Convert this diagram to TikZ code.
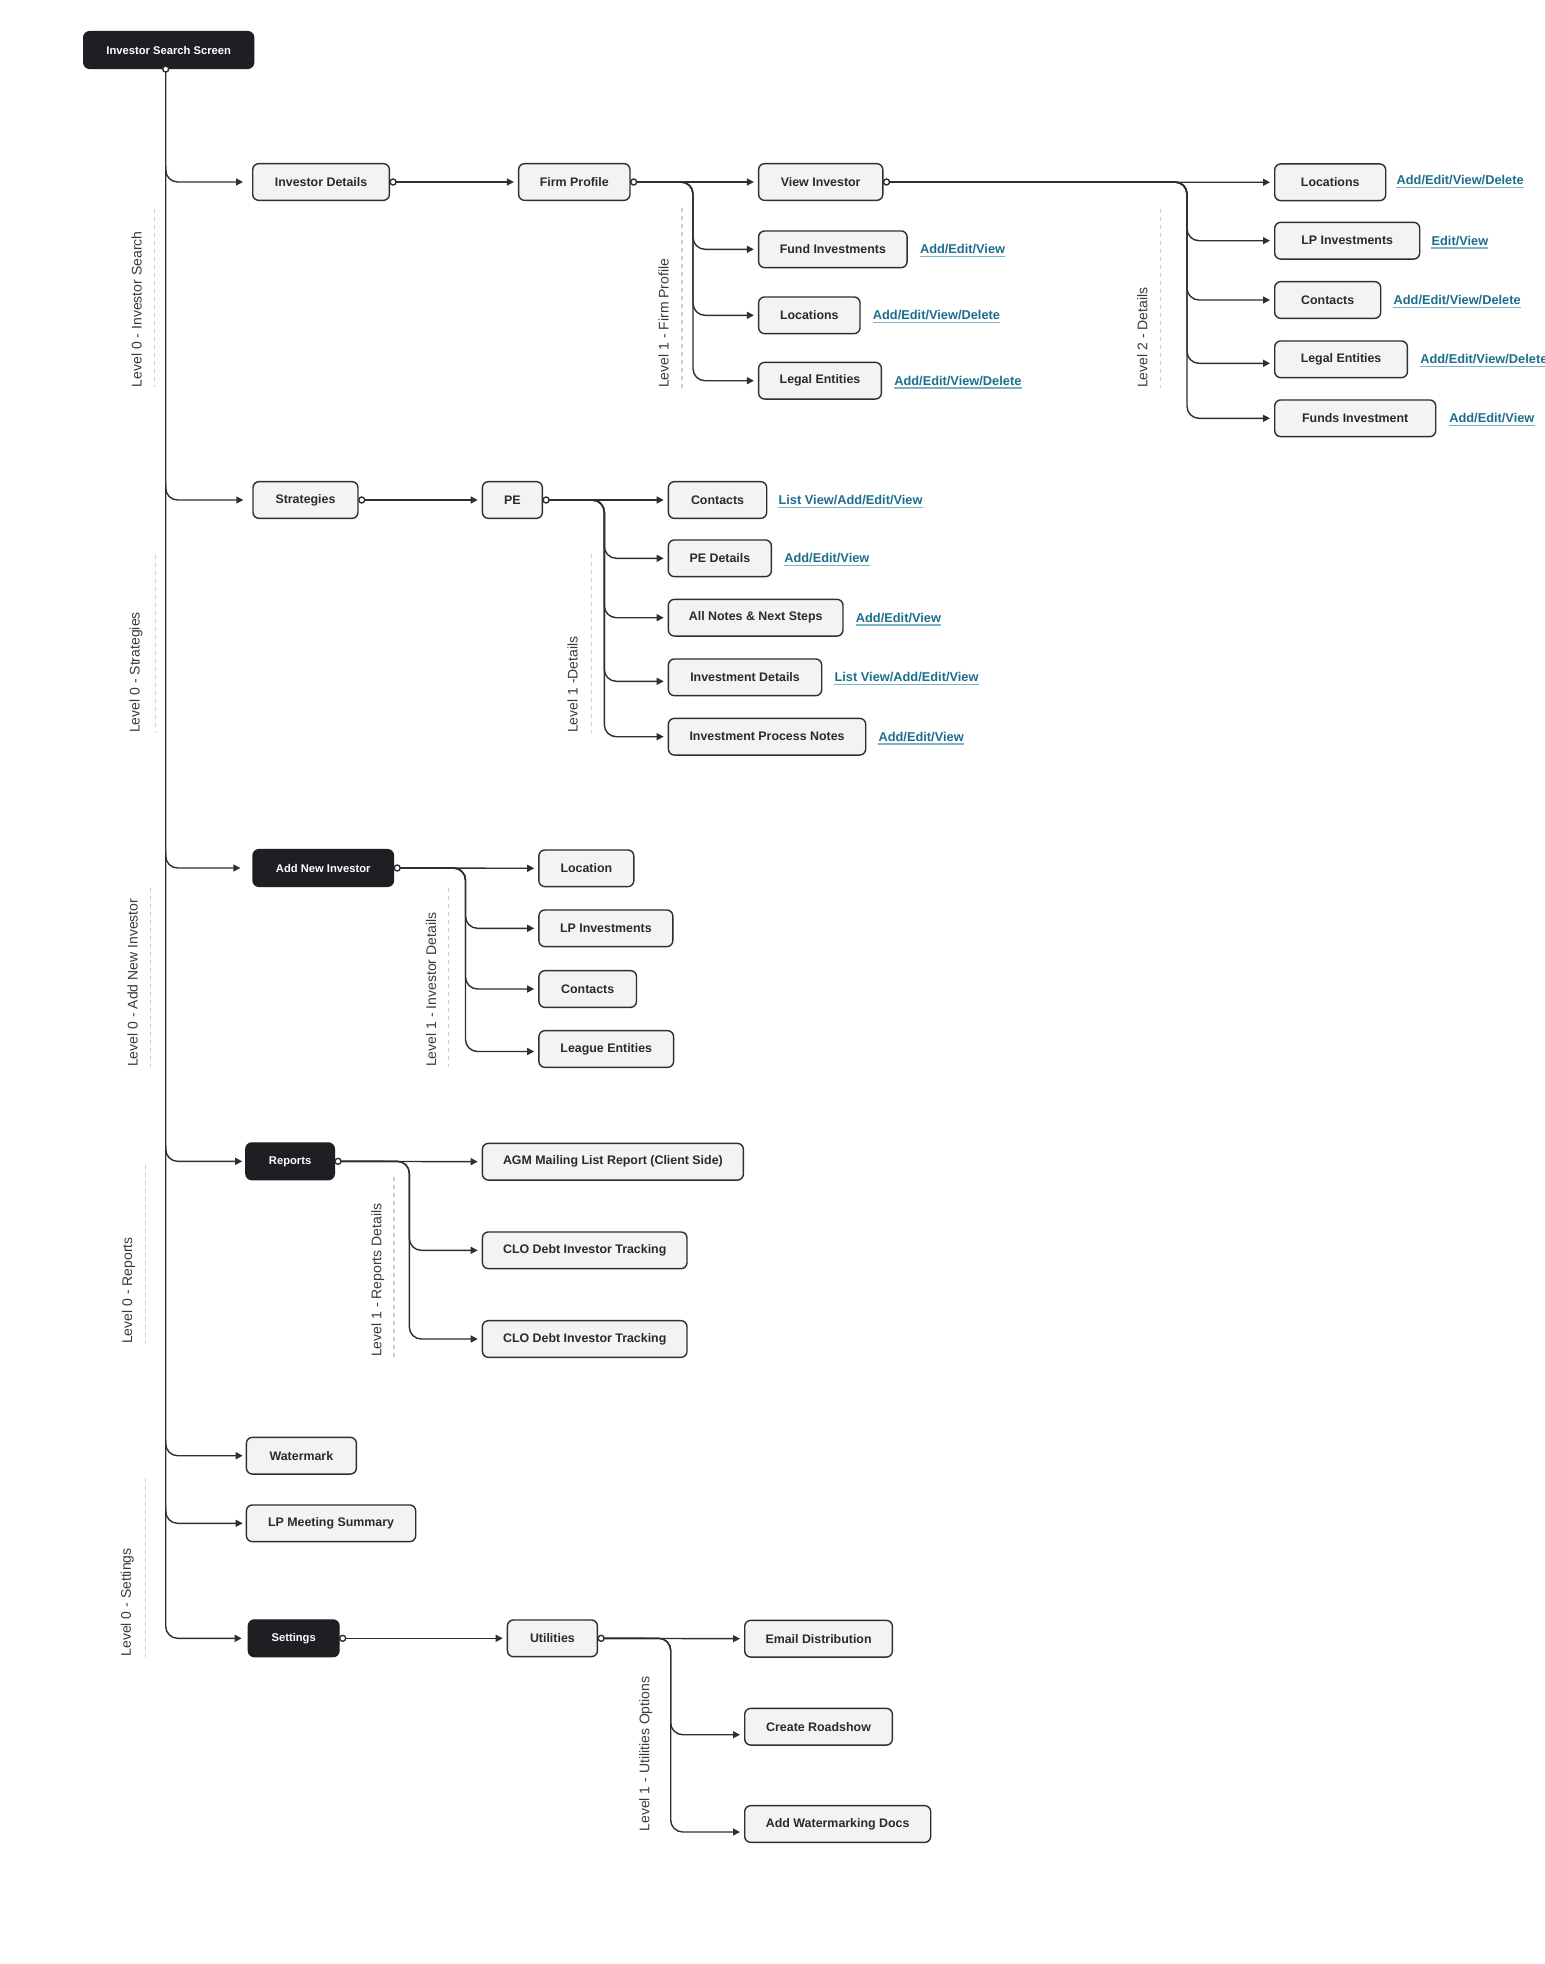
\documentclass[tikz,border=0pt]{standalone}
\usepackage{fontspec}
\setmainfont{Liberation Sans}
\usetikzlibrary{arrows.meta}
\definecolor{boxfill}{HTML}{F3F3F3}
\definecolor{boxline}{HTML}{2F2F2F}
\definecolor{darkfill}{HTML}{1E1F22}
\definecolor{txt}{HTML}{2A2A2A}
\definecolor{linkc}{HTML}{1D6E8E}
\definecolor{ulc}{HTML}{7DB3C6}
\definecolor{dashc}{HTML}{D0D0D0}
\definecolor{lvl}{HTML}{3A3A3A}
\begin{document}
\begin{tikzpicture}[x=1pt,y=-1pt,
 box/.style={draw=boxline, fill=boxfill, line width=1.4pt, rounded corners=6pt, minimum height=36.7pt, inner sep=0pt, anchor=west, text=txt, font=\fontsize{12.4}{14}\selectfont\bfseries},
 darkbox/.style={box, fill=darkfill, draw=darkfill, text=white, font=\fontsize{11.2}{13}\selectfont\bfseries},
 conn/.style={draw=boxline, line width=1.4pt, rounded corners=12pt, -{Triangle[length=7pt,width=7pt]}, shorten >=4pt},
 ring/.style={draw=boxline, fill=white, line width=1.4pt},
 link/.style={anchor=west, inner sep=0pt, text=linkc, font=\fontsize{12.8}{15}\selectfont\bfseries, append after command={([yshift=-2.8pt]\tikzlastnode.base west) edge[draw=ulc, line width=1.2pt] ([yshift=-2.8pt]\tikzlastnode.base east)}},
 lvltext/.style={rotate=90, anchor=west, inner sep=0pt, text=lvl, font=\fontsize{14}{16}\selectfont},
 sep/.style={draw=dashc, line width=1.5pt, dash pattern=on 4pt off 4pt}
]
\fill[white] (0,0) rectangle (1544,1964);
\useasboundingbox (0,0) rectangle (1544,1964);

% ---------- boxes ----------
\node[darkbox, minimum width=170pt] (iss) at (83,50) {Investor Search Screen};
\node[box, minimum width=136.7pt] (invd) at (252,182) {Investor Details};
\node[box, minimum width=111.4pt] (fp) at (517.9,182) {Firm Profile};
\node[box, minimum width=124.2pt] (vi) at (757.9,182) {View Investor};
\node[box, minimum width=148.5pt] (fi) at (757.9,249.3) {Fund Investments};
\node[box, minimum width=101.4pt] (loc1) at (757.9,315.3) {Locations};
\node[box, minimum width=122.8pt] (le1) at (757.9,380.7) {Legal Entities};
\node[box, minimum width=111pt] (loc2) at (1274,182.3) {Locations};
\node[box, minimum width=145pt] (lpi) at (1274,240.7) {LP Investments};
\node[box, minimum width=106pt] (con1) at (1274,300) {Contacts};
\node[box, minimum width=132.7pt] (le2) at (1274,359.3) {Legal Entities};
\node[box, minimum width=161pt] (funds) at (1274,418.3) {Funds Investment};
\node[box, minimum width=105pt] (strat) at (252.3,500) {Strategies};
\node[box, minimum width=60pt] (pe) at (481.7,500) {PE};
\node[box, minimum width=98.3pt] (con2) at (667.7,500) {Contacts};
\node[box, minimum width=103pt] (ped) at (667.7,558.3) {PE Details};
\node[box, minimum width=174.6pt] (notes) at (667.7,617.7) {All Notes \& Next Steps};
\node[box, minimum width=153.3pt] (invdet) at (667.7,677.3) {Investment Details};
\node[box, minimum width=197.3pt] (ipn) at (667.7,736.7) {Investment Process Notes};
\node[darkbox, minimum width=140.5pt] (ani) at (252.3,868) {Add New Investor};
\node[box, minimum width=94.9pt] (loc3) at (538.2,868.3) {Location};
\node[box, minimum width=133.9pt] (lpi2) at (538.2,928.3) {LP Investments};
\node[box, minimum width=97.6pt] (con3) at (538.2,989) {Contacts};
\node[box, minimum width=134.7pt] (league) at (538.2,1049) {League Entities};
\node[darkbox, minimum width=88.4pt] (rep) at (245.2,1161.3) {Reports};
\node[box, minimum width=261pt] (agm) at (481.7,1161.7) {AGM Mailing List Report (Client Side)};
\node[box, minimum width=204.6pt] (clo1) at (481.7,1250.3) {CLO Debt Investor Tracking};
\node[box, minimum width=204.6pt] (clo2) at (481.7,1339) {CLO Debt Investor Tracking};
\node[box, minimum width=110pt] (wm) at (245.7,1455.7) {Watermark};
\node[box, minimum width=169.3pt] (lpm) at (245.7,1523.3) {LP Meeting Summary};
\node[darkbox, minimum width=90.6pt] (set) at (247.7,1638.3) {Settings};
\node[box, minimum width=90pt] (util) at (506.7,1638.3) {Utilities};
\node[box, minimum width=147.7pt] (email) at (744,1638.7) {Email Distribution};
\node[box, minimum width=147.7pt] (road) at (744,1726.7) {Create Roadshow};
\node[box, minimum width=186pt] (awd) at (744,1824) {Add Watermarking Docs};

% ---------- links ----------
\node[link] (k1) at ([xshift=12pt]fi.east) {Add/Edit/View};
\node[link] (k2) at ([xshift=12pt]loc1.east) {Add/Edit/View/Delete};
\node[link] (k3) at ([xshift=12pt]le1.east) {Add/Edit/View/Delete};
\node[link] (k4) at ([xshift=10pt,yshift=2pt]loc2.east) {Add/Edit/View/Delete};
\node[link] (k5) at ([xshift=11pt]lpi.east) {Edit/View};
\node[link] (k6) at ([xshift=12pt]con1.east) {Add/Edit/View/Delete};
\node[link] (k7) at ([xshift=12pt]le2.east) {Add/Edit/View/Delete};
\node[link] (k8) at ([xshift=12.7pt]funds.east) {Add/Edit/View};
\node[link] (k9) at ([xshift=11pt]con2.east) {List View/Add/Edit/View};
\node[link] (k10) at ([xshift=12pt]ped.east) {Add/Edit/View};
\node[link] (k11) at ([xshift=12pt]notes.east) {Add/Edit/View};
\node[link] (k12) at ([xshift=12pt]invdet.east) {List View/Add/Edit/View};
\node[link] (k13) at ([xshift=12pt]ipn.east) {Add/Edit/View};

% ---------- level separators and labels ----------
\draw[sep] (154.3,209.3) -- (154.3,387.3);
\node[lvltext] (v1) at (136.7,387.3) {Level 0 - Investor Search};
\draw[sep] (682.1,208) -- (682.1,388);
\node[lvltext] (v2) at (663.6,388) {Level 1 - Firm Profile};
\draw[sep] (1160.7,209.3) -- (1160.7,387.7);
\node[lvltext] (v3) at (1142.3,388) {Level 2 - Details};
\draw[sep] (155.3,555) -- (155.3,733.3);
\node[lvltext] (v4) at (136,733) {Level 0 - Strategies};
\draw[sep] (591.5,554) -- (591.5,733.3);
\node[lvltext] (v5) at (572.7,733) {Level 1 -Details};
\draw[sep] (150.5,888.3) -- (150.5,1067.3);
\node[lvltext] (v6) at (132.5,1067) {Level 0 - Add New Investor};
\draw[sep] (448.3,888) -- (448.3,1067);
\node[lvltext] (v7) at (431,1067) {Level 1 - Investor Details};
\draw[sep] (145.5,1165) -- (145.5,1344);
\node[lvltext] (v8) at (128.6,1344) {Level 0 - Reports};
\draw[sep] (393.8,1177.3) -- (393.8,1357.3);
\node[lvltext] (v9) at (377.8,1357) {Level 1 - Reports Details};
\draw[sep] (145.7,1478.3) -- (145.7,1656.7);
\node[lvltext] (v10) at (127.3,1656.7) {Level 0 - Settings};
\node[lvltext] (v11) at (645.7,1831.7) {Level 1 - Utilities Options};

% ---------- buses ----------
\coordinate (T0) at ([xshift=-3pt]iss.south);
\coordinate (B1) at (693,0);
\coordinate (B2) at (1187,0);
\coordinate (B3) at (604.3,0);
\coordinate (B4) at (465.5,0);
\coordinate (B5) at (409.3,0);
\coordinate (B6) at (670.7,0);
\coordinate (le2a) at ([yshift=-4pt]le2.west);
\coordinate (invdeta) at ([yshift=-4pt]invdet.west);
\coordinate (leaguea) at ([yshift=-2.5pt]league.west);
\coordinate (roada) at ([yshift=-8pt]road.west);
\coordinate (awda) at ([yshift=-8pt]awd.west);

% trunk (one line down to Settings, short branches off it)
\draw[conn, shorten >=6pt] (T0) |- (set.west);
\draw[conn, shorten >=9pt] (T0 |- invd.west) ++(0,-16) |- (invd.west);
\draw[conn, shorten >=9pt] (T0 |- strat.west) ++(0,-16) |- (strat.west);
\draw[conn, shorten >=12pt] (T0 |- ani.west) ++(0,-16) |- (ani.west);
\draw[conn, shorten >=3pt] (T0 |- rep.west) ++(0,-16) |- (rep.west);
\draw[conn, shorten >=3pt] (T0 |- wm.west) ++(0,-16) |- (wm.west);
\draw[conn, shorten >=3pt] (T0 |- lpm.west) ++(0,-16) |- (lpm.west);

% investor details / firm profile
\draw[conn] (invd.east) -- (fp.west);
\draw[conn] (fp.east) -- (vi.west);
\draw[conn] (fp.east) -- (B1 |- fp.east) -- (B1 |- fi.west) -- (fi.west);
\draw[conn] (fp.east) -- (B1 |- fp.east) -- (B1 |- loc1.west) -- (loc1.west);
\draw[conn] (fp.east) -- (B1 |- fp.east) -- (B1 |- le1.west) -- (le1.west);

% view investor
\draw[conn] (vi.east) -- (loc2.west);
\draw[conn] (vi.east) -- (B2 |- vi.east) -- (B2 |- lpi.west) -- (lpi.west);
\draw[conn] (vi.east) -- (B2 |- vi.east) -- (B2 |- con1.west) -- (con1.west);
\draw[conn] (vi.east) -- (B2 |- vi.east) -- (B2 |- le2a) -- (le2a);
\draw[conn] (vi.east) -- (B2 |- vi.east) -- (B2 |- funds.west) -- (funds.west);

% strategies / PE
\draw[conn] (strat.east) -- (pe.west);
\draw[conn] (pe.east) -- (con2.west);
\draw[conn] (pe.east) -- (B3 |- pe.east) -- (B3 |- ped.west) -- (ped.west);
\draw[conn] (pe.east) -- (B3 |- pe.east) -- (B3 |- notes.west) -- (notes.west);
\draw[conn] (pe.east) -- (B3 |- pe.east) -- (B3 |- invdeta) -- (invdeta);
\draw[conn] (pe.east) -- (B3 |- pe.east) -- (B3 |- ipn.west) -- (ipn.west);

% add new investor
\draw[conn] (ani.east) -- (loc3.west);
\draw[conn] (ani.east) -- (B4 |- ani.east) -- (B4 |- lpi2.west) -- (lpi2.west);
\draw[conn] (ani.east) -- (B4 |- ani.east) -- (B4 |- con3.west) -- (con3.west);
\draw[conn] (ani.east) -- (B4 |- ani.east) -- (B4 |- leaguea) -- (leaguea);

% reports
\draw[conn] (rep.east) -- (agm.west);
\draw[conn] (rep.east) -- (B5 |- rep.east) -- (B5 |- clo1.west) -- (clo1.west);
\draw[conn] (rep.east) -- (B5 |- rep.east) -- (B5 |- clo2.west) -- (clo2.west);

% settings / utilities
\draw[conn] (set.east) -- (util.west);
\draw[conn] (util.east) -- (email.west);
\draw[conn] (util.east) -- (B6 |- util.east) -- (B6 |- roada) -- (roada);
\draw[conn] (util.east) -- (B6 |- util.east) -- (B6 |- awda) -- (awda);

% ---------- start rings ----------
\draw[ring] (T0) circle[radius=3pt];
\foreach \n in {invd,fp,vi,strat,pe,ani,rep,set,util}
  \draw[ring] ([xshift=3pt]\n.east) circle[radius=3pt];
\end{tikzpicture}
\end{document}
